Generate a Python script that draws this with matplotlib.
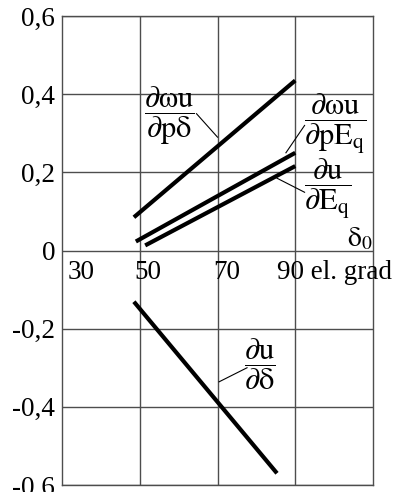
import matplotlib.pyplot as plt
import numpy as np

plt.rcParams['font.family'] = 'Liberation Serif'
plt.rcParams['mathtext.fontset'] = 'stix'

# load angle, el. grad
d_wp_delta = [48.5, 90.0]
v_wp_delta = [0.085, 0.435]
d_wp_eq = [49.0, 90.0]
v_wp_eq = [0.023, 0.25]
d_u_eq = [51.4, 90.0]
v_u_eq = [0.013, 0.216]
d_u_delta = [48.5, 85.3]
v_u_delta = [-0.131, -0.57]

yticks = [0.6, 0.4, 0.2, 0.0, -0.2, -0.4, -0.6]
ylabels = ['0,6', '0,4', '0,2', '0', '-0,2', '-0,4', '-0,6']
xgrid = [50, 70, 90]
xlabels = ['30', '50', '70', '90 el. grad']
xlabel_pos = [35.0, 52.0, 72.3, 85.3]

fig = plt.figure(figsize=(4.01, 4.92), dpi=100)
ax = fig.add_axes([0.1546, 0.0142, 0.7756, 0.9533])
ax.set_xlim(30, 110)
ax.set_ylim(-0.6, 0.6)

ax.set_xticks(xgrid)
ax.set_xticklabels([])
ax.set_yticks(yticks)
ax.set_yticklabels(ylabels, fontsize=19.5)
ax.tick_params(length=0, pad=5)
for lbl in ax.get_yticklabels():
    lbl.set_verticalalignment('center_baseline')
ax.grid(True, color='0.3', lw=1)
for s in ax.spines.values():
    s.set_color('0.3')
    s.set_linewidth(1)

for d, v in [(d_wp_delta, v_wp_delta), (d_wp_eq, v_wp_eq),
             (d_u_eq, v_u_eq), (d_u_delta, v_u_delta)]:
    ax.plot(d, v, color='black', lw=3, solid_capstyle='butt', zorder=3)

for lab, xp in zip(xlabels, xlabel_pos):
    ax.text(xp, -0.056, lab, fontsize=19.5, ha='left' if 'el' in lab else 'center',
            va='center', clip_on=False)

fs = 22
ax.text(51.2, 0.346, r'$\dfrac{\mathrm{\partial\omega u}}{\mathrm{\partial p\delta}}$',
        fontsize=fs, ha='left', va='center')
ax.text(92.3, 0.325, r'$\dfrac{\mathrm{\partial\omega u}}{\mathrm{\partial pE_q}}$',
        fontsize=fs, ha='left', va='center', clip_on=False)
ax.text(92.3, 0.158, r'$\dfrac{\mathrm{\partial u}}{\mathrm{\partial E_q}}$',
        fontsize=fs, ha='left', va='center')
ax.text(76.8, -0.292, r'$\dfrac{\mathrm{\partial u}}{\mathrm{\partial\delta}}$',
        fontsize=fs, ha='left', va='center')
ax.text(103.4, 0.031, r'$\mathrm{\delta_0}$', fontsize=20, ha='left', va='center')

# leader lines from labels to curves
ax.plot([64.6, 70.0], [0.35, 0.29], color='black', lw=0.8)
ax.plot([92.4, 87.6], [0.32, 0.25], color='black', lw=0.8)
ax.plot([85.3, 92.4], [0.185, 0.149], color='black', lw=0.8)
ax.plot([77.6, 70.4], [-0.30, -0.336], color='black', lw=0.8)

fig.savefig('out.png', dpi=100)
